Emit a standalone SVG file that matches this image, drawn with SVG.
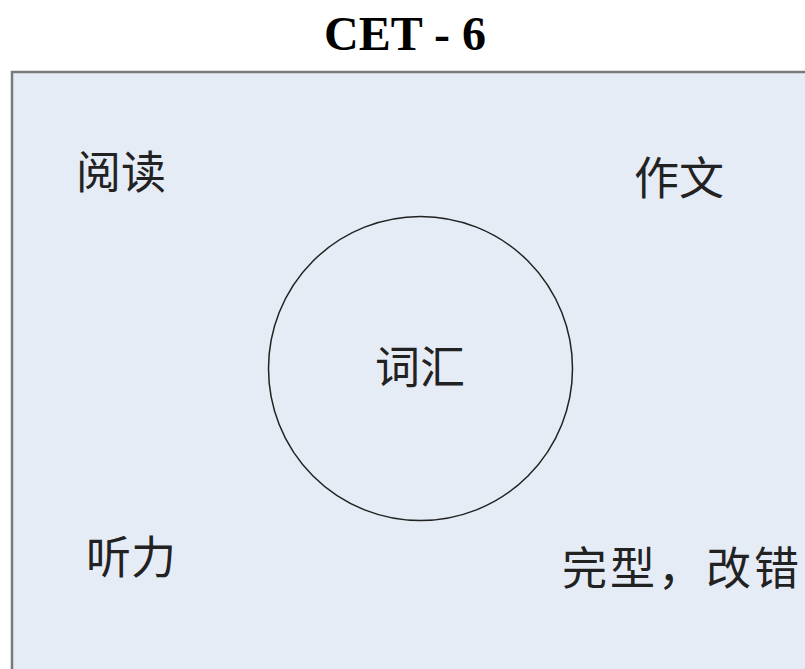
<svg xmlns="http://www.w3.org/2000/svg" width="805" height="669" viewBox="0 0 805 669">
<style>
.lbl{font-family:"Noto Sans CJK SC","Noto Sans CJK TC",sans-serif;font-size:45px;fill:#222;}
.title{font-family:"Liberation Serif",serif;font-size:48px;font-weight:bold;fill:#000;}
</style>
<rect width="805" height="669" fill="#ffffff"/>
<text class="title" x="405" y="50" text-anchor="middle">CET - 6</text>
<rect id="frame" x="12" y="72" width="810" height="620" fill="#e6ecf6" stroke="#7a7a7a" stroke-width="2.5"/>
<g id="reading"><text class="lbl" x="76" y="189">阅读</text></g>
<g id="writing"><text class="lbl" x="634" y="195">作文</text></g>
<g id="vocab">
<circle cx="420.5" cy="368.5" r="152" fill="none" stroke="#222" stroke-width="1.5"/>
<text class="lbl" x="420" y="384" text-anchor="middle">词汇</text>
</g>
<g id="listening"><text class="lbl" x="86" y="574">听力</text></g>
<g id="cloze"><text class="lbl" x="562" y="585" letter-spacing="3">完型，改错</text></g>
<g id="connectors"></g>
</svg>
